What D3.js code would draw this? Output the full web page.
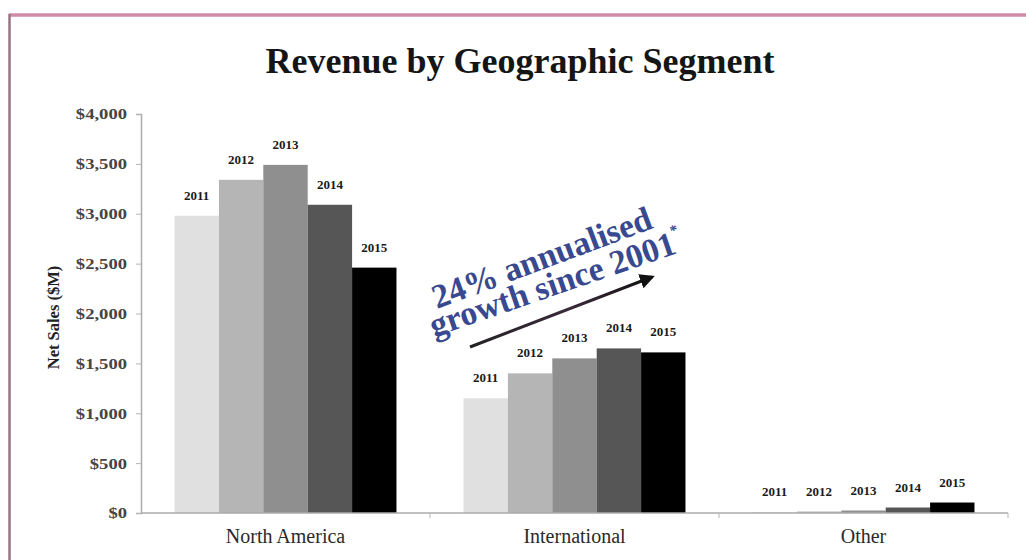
<!DOCTYPE html>
<html>
<head>
<meta charset="utf-8">
<script src="https://cdn.jsdelivr.net/npm/d3@7"></script>
<style>
  html, body { margin: 0; padding: 0; background: #ffffff; }
  svg { display: block; }
  text { font-family: "Liberation Serif", "Times New Roman", serif; }
</style>
</head>
<body>
<svg id="chart" width="1026" height="560"></svg>
<script>
// Segments, years and net sales ($M) per segment and year
const categories = ["North America", "International", "Other"];
const years = ["2011", "2012", "2013", "2014", "2015"];
const northAmerica = [2980, 3340, 3490, 3090, 2460];
const international = [1150, 1400, 1550, 1650, 1610];
const other = [8, 15, 25, 55, 105];
const yTicks = [0, 500, 1000, 1500, 2000, 2500, 3000, 3500, 4000];
const yearColors = ["#e0e0e0", "#b5b5b5", "#8f8f8f", "#565656", "#000000"];

const seriesBySegment = [northAmerica, international, other];
const rows = categories.map((c, i) => ({
  category: c,
  values: years.map((y, j) => ({ year: y, value: seriesBySegment[i][j] }))
}));

const svg = d3.select("#chart");

// Frame around the slide
svg.append("line").attr("x1", 9).attr("x2", 1026).attr("y1", 15).attr("y2", 15)
  .attr("stroke", "#cf8aa8").attr("stroke-width", 3.5);
svg.append("line").attr("x1", 9.5).attr("x2", 9.5).attr("y1", 14).attr("y2", 560)
  .attr("stroke", "#967585").attr("stroke-width", 2.5);

// Title
svg.append("text")
  .attr("x", 520).attr("y", 73)
  .attr("text-anchor", "middle")
  .attr("font-size", 36).attr("font-weight", "bold")
  .attr("fill", "#151515")
  .text("Revenue by Geographic Segment");

const plotLeft = 141, plotRight = 1008, plotTop = 114, plotBottom = 513;

const x0 = d3.scaleBand().domain(categories).range([plotLeft, plotRight])
  .paddingInner(0.232).paddingOuter(0.116);
const x1 = d3.scaleBand().domain(years).range([0, x0.bandwidth()]).padding(0);
const y = d3.scaleLinear().domain([0, 4000]).range([plotBottom, plotTop]);
const color = d3.scaleOrdinal().domain(years).range(yearColors);

// Y axis
const yAxis = svg.append("g")
  .attr("transform", `translate(${plotLeft},0)`)
  .call(d3.axisLeft(y).tickValues(yTicks).tickSize(5).tickPadding(9)
    .tickFormat(d => "$" + d3.format(",")(d)));
yAxis.select(".domain").attr("stroke", "#ababab").attr("stroke-width", 1.5);
yAxis.selectAll(".tick line").attr("stroke", "#b5b5b5");
yAxis.selectAll(".tick text")
  .attr("font-family", "'Liberation Serif', serif")
  .attr("font-size", 15.5).attr("font-weight", "bold")
  .attr("fill", "#454545")
  .each(function () {
    const w = this.getComputedTextLength();
    d3.select(this).attr("textLength", w * 1.2).attr("lengthAdjust", "spacingAndGlyphs");
  });

// Y axis title
svg.append("text")
  .attr("transform", `translate(59,${(plotTop + plotBottom) / 2 + 4}) rotate(-90)`)
  .attr("text-anchor", "middle")
  .attr("font-size", 16.5).attr("font-weight", "bold")
  .attr("fill", "#222")
  .text("Net Sales ($M)");

// Bars
const groups = svg.append("g").selectAll("g")
  .data(rows).join("g")
  .attr("transform", d => `translate(${x0(d.category)},0)`);

groups.selectAll("rect")
  .data(d => d.values).join("rect")
  .attr("x", d => x1(d.year))
  .attr("width", x1.bandwidth())
  .attr("y", d => y(d.value))
  .attr("height", d => y(0) - y(d.value))
  .attr("fill", d => color(d.year));

// Year labels above each bar
groups.selectAll("text.yr")
  .data(d => d.values).join("text")
  .attr("class", "yr")
  .attr("x", d => x1(d.year) + x1.bandwidth() / 2)
  .attr("y", d => y(d.value) - 16)
  .attr("text-anchor", "middle")
  .attr("font-size", 13).attr("font-weight", "bold")
  .attr("fill", "#1a1a1a")
  .text(d => d.year);

// X axis baseline with boundary ticks
svg.append("line")
  .attr("x1", plotLeft).attr("x2", plotRight)
  .attr("y1", plotBottom).attr("y2", plotBottom)
  .attr("stroke", "#ababab").attr("stroke-width", 1.5);
const step = x0.step();
svg.append("g").selectAll("line")
  .data(d3.range(1, categories.length + 1)).join("line")
  .attr("x1", i => plotLeft + i * step).attr("x2", i => plotLeft + i * step)
  .attr("y1", plotBottom).attr("y2", plotBottom + 5)
  .attr("stroke", "#b5b5b5");

// Category labels
svg.append("g").selectAll("text")
  .data(categories).join("text")
  .attr("x", d => x0(d) + x0.bandwidth() / 2)
  .attr("y", 543)
  .attr("text-anchor", "middle")
  .attr("font-size", 20)
  .attr("fill", "#2a2a2a")
  .text(d => d);

// Growth annotation: arrow and rotated caption
const defs = svg.append("defs");
defs.append("marker")
  .attr("id", "head")
  .attr("viewBox", "0 0 10 10")
  .attr("refX", 8).attr("refY", 5)
  .attr("markerWidth", 5).attr("markerHeight", 5)
  .attr("orient", "auto")
  .append("path").attr("d", "M0,0 L10,5 L0,10 Z").attr("fill", "#111");
const grad = defs.append("linearGradient").attr("id", "arrowGrad")
  .attr("gradientUnits", "userSpaceOnUse")
  .attr("x1", 470).attr("y1", 347).attr("x2", 652).attr("y2", 277);
grad.append("stop").attr("offset", "0%").attr("stop-color", "#222");
grad.append("stop").attr("offset", "55%").attr("stop-color", "#3a2a3a");
grad.append("stop").attr("offset", "100%").attr("stop-color", "#111");

svg.append("line")
  .attr("x1", 470).attr("y1", 347).attr("x2", 652).attr("y2", 277)
  .attr("stroke", "url(#arrowGrad)").attr("stroke-width", 3)
  .attr("marker-end", "url(#head)");

const captionStyle = sel => sel
  .attr("font-size", 34).attr("font-weight", "bold")
  .attr("fill", "#38498f")
  .attr("stroke", "#ffffff").attr("stroke-width", 4)
  .attr("stroke-linejoin", "round")
  .attr("paint-order", "stroke");

svg.append("text")
  .attr("transform", "translate(437,309) rotate(-20.5)")
  .call(captionStyle)
  .attr("textLength", 232).attr("lengthAdjust", "spacingAndGlyphs")
  .text("24% annualised");

const line2 = svg.append("text")
  .attr("transform", "translate(434,337) rotate(-19)")
  .call(captionStyle);
line2.append("tspan")
  .attr("textLength", 258).attr("lengthAdjust", "spacingAndGlyphs")
  .text("growth since 2001");
line2.append("tspan").attr("font-size", 15).attr("dy", -18).text("*");
</script>
</body>
</html>
